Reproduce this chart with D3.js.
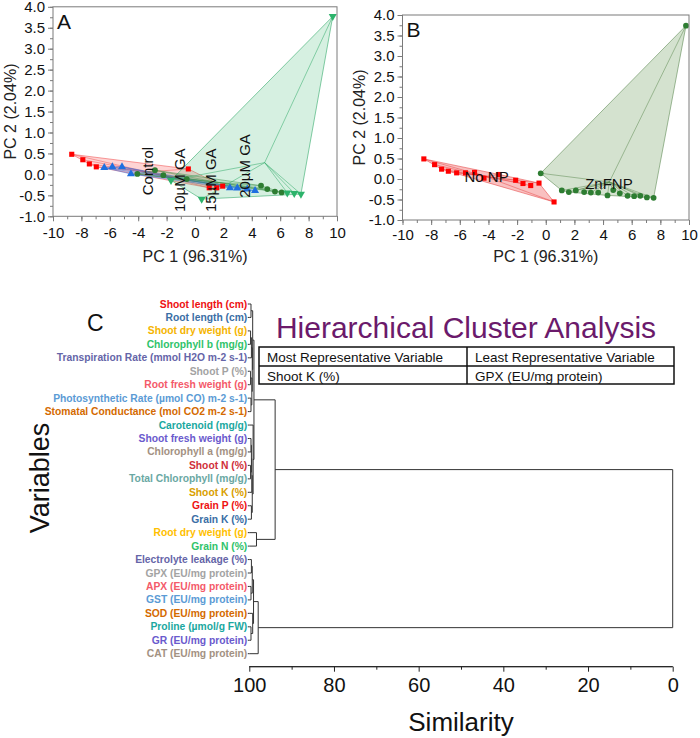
<!DOCTYPE html>
<html><head><meta charset="utf-8">
<script src="https://cdn.jsdelivr.net/npm/d3@7"></script>
<style>body{margin:0;background:#fff} svg{display:block} text{font-family:"Liberation Sans",Arial,sans-serif}</style>
</head><body><svg id="c" width="700" height="738"></svg>
<script>
// ---------------- DATA ----------------
const pcaXTicks = [-10,-8,-6,-4,-2,0,2,4,6,8,10];
const pcaYTicks = [-1.0,-0.5,0.0,0.5,1.0,1.5,2.0,2.5,3.0,3.5,4.0];
const pcXTitle = "PC 1 (96.31%)";
const pcYTitle = "PC 2 (2.04%)";

const groupNamesA = ["Control","10µM GA","15µM GA","20µM GA"];
const controlA = [[-8.68,0.48],[-7.9,0.35],[-7.44,0.25],[-6.95,0.18],[-0.47,0.13],[1.0,-0.32],[1.53,-0.32],[1.95,-0.28]];
const ga10A = [[-6.39,0.16],[-5.82,0.18],[-5.14,0.18],[-4.51,0.01],[2.46,-0.32],[2.98,-0.33],[3.68,-0.35],[4.23,-0.39]];
const ga15A = [[-4.06,0.01],[-2.82,0.1],[-2.23,-0.02],[-0.58,-0.11],[4.65,-0.27],[5.09,-0.35],[5.63,-0.41],[6.1,-0.43]];
const ga20A = [[-1.69,-0.14],[0.47,-0.59],[6.5,-0.44],[6.99,-0.45],[7.46,-0.47],[9.7,3.77]];
const labelPosA = [[-3.31,0.08],[-1.06,-0.14],[1.06,-0.14],[3.52,0.2]];

const groupNamesB = ["No NP","ZnFNP"];
const noNPB = [[-8.51,0.49],[-7.76,0.35],[-7.27,0.24],[-6.8,0.19],[-6.22,0.15],[-5.6,0.15],[-4.97,0.16],[-4.31,0.02],[-3.26,0.11],[-2.1,-0.03],[-1.59,-0.11],[-1.05,-0.16],[-0.47,-0.1],[0.58,-0.56]];
const znfnpB = [[-0.35,0.14],[1.12,-0.28],[1.61,-0.32],[2.1,-0.28],[2.68,-0.32],[3.15,-0.33],[3.66,-0.33],[4.31,-0.4],[4.71,-0.27],[5.17,-0.35],[5.71,-0.41],[6.17,-0.42],[6.6,-0.41],[7.06,-0.45],[7.53,-0.46],[9.79,3.74]];
const labelPosB = [[-4.13,0.05],[4.41,-0.12]];

const variables = ["Shoot length (cm)","Root length (cm)","Shoot dry weight (g)","Chlorophyll b (mg/g)","Transpiration Rate (mmol H2O m-2 s-1)","Shoot P (%)","Root fresh weight (g)","Photosynthetic Rate (µmol CO) m-2 s-1)","Stomatal Conductance (mol CO2 m-2 s-1)","Carotenoid (mg/g)","Shoot fresh weight (g)","Chlorophyll a (mg/g)","Shoot N (%)","Total Chlorophyll (mg/g)","Shoot K (%)","Grain P (%)","Grain K (%)","Root dry weight (g)","Grain N (%)","Electrolyte leakage (%)","GPX (EU/mg protein)","APX (EU/mg protein)","GST (EU/mg protein)","SOD (EU/mg protein)","Proline (µmol/g FW)","GR (EU/mg protein)","CAT (EU/mg protein)"];
const variableColors = ["#ee1111","#3a6ea5","#f5b400","#2fc36a","#6565a8","#a3a3a3","#f45a6a","#5b9bd5","#d46a00","#1aa8a0","#6a5acd","#a39182","#d0303a","#6aa8a3","#d9a000","#ee1111","#3a6ea5","#ffc000","#2fc36a","#6565a8","#a3a3a3","#f45a6a","#5b9bd5","#d46a00","#1aa8a0","#6a5acd","#a39182"];
// merges: [id, childA, childB, similarity]
const merges = [
 ["n0",0,1,99.6],["n1",2,3,99.7],["n2","n1",4,99.5],["n3",5,6,99.7],["n4",7,8,99.6],
 ["n5","n3","n4",99.4],["n6","n2","n5",99.3],["X","n0","n6",99.2],
 ["n9",10,11,99.6],["n10",12,13,99.7],["n11","n9","n10",99.5],["n12","n11",14,99.4],
 ["n13",15,16,99.5],["n14","n12","n13",99.3],["Y",9,"n14",99.1],
 ["A","X","Y",98.9],["B",17,18,98.3],["G1","A","B",93.9],
 ["m0",19,20,99.5],["m1",21,22,99.6],["m2","m0","m1",99.3],["m3",24,25,99.6],
 ["m4",23,"m3",99.2],["m5","m2","m4",99.0],["G2","m5",26,97.9],
 ["root","G1","G2",0]
];
const simTicks = [100,80,60,40,20,0];
const simMinor = [90,70,50,30,10];
const tableHead = ["Most Representative Variable","Least Representative Variable"];
const tableRow = ["Shoot K (%)","GPX (EU/mg protein)"];

// ---------------- DRAW ----------------
const svg = d3.select("#c");
const axisGray = "#7a7a7a";

function pcaPanel(cfg){
  const x = d3.scaleLinear().domain([-10,10]).range([cfg.x0,cfg.x1]);
  const y = d3.scaleLinear().domain([-1,4]).range([cfg.y1,cfg.y0]);
  const g = svg.append("g");
  cfg.groups.forEach(gr=>{
    const pts = gr.data.map(d=>[x(d[0]),y(d[1])]);
    const hull = d3.polygonHull(pts);
    g.append("path").attr("d","M"+hull.join("L")+"Z")
      .attr("fill",gr.fill).attr("stroke",gr.stroke).attr("stroke-width",0.8);
    const cx = d3.mean(gr.data,d=>d[0]), cy = d3.mean(gr.data,d=>d[1]);
    gr.data.forEach(d=>{
      g.append("line").attr("x1",x(cx)).attr("y1",y(cy)).attr("x2",x(d[0])).attr("y2",y(d[1]))
        .attr("stroke",gr.stroke).attr("stroke-width",0.7);
    });
  });
  cfg.groups.forEach(gr=>{
    const sym = d3.symbol().type(gr.symbol).size(gr.size);
    g.selectAll(null).data(gr.data).enter().append("path")
      .attr("d",sym)
      .attr("transform",d=>`translate(${x(d[0])},${y(d[1])})${gr.rot?" rotate(180)":""}`)
      .attr("fill",gr.color);
  });
  g.append("rect").attr("x",cfg.x0).attr("y",cfg.y0).attr("width",cfg.x1-cfg.x0).attr("height",cfg.y1-cfg.y0)
    .attr("fill","none").attr("stroke",axisGray).attr("stroke-width",1);
  const xa = g.append("g").attr("transform",`translate(0,${cfg.y1})`)
    .call(d3.axisBottom(x).tickValues(pcaXTicks).tickSize(5).tickPadding(cfg.xPad).tickFormat(d3.format("d")));
  const xm = g.append("g").attr("transform",`translate(0,${cfg.y1})`)
    .call(d3.axisBottom(x).tickValues(d3.range(-10,11,1)).tickSize(3).tickFormat(""));
  const ya = g.append("g").attr("transform",`translate(${cfg.x0},0)`)
    .call(d3.axisLeft(y).tickValues(pcaYTicks).tickSize(5).tickPadding(3).tickFormat(d3.format(".1f")));
  const ym = g.append("g").attr("transform",`translate(${cfg.x0},0)`)
    .call(d3.axisLeft(y).tickValues(d3.range(-1,4.01,0.25)).tickSize(3).tickFormat(""));
  [xa,xm,ya,ym].forEach(a=>{
    a.select(".domain").remove();
    a.selectAll("line").attr("stroke",axisGray);
    a.selectAll("text").attr("font-size",15).attr("fill","#111").attr("font-family","Liberation Sans, Arial, sans-serif");
  });
  ya.selectAll("text").text(d=>d3.format(".1f")(d).replace("−","-"));
  xa.selectAll("text").text(d=>String(d));
  g.append("text").attr("x",(cfg.x0+cfg.x1)/2).attr("y",cfg.xTitleY).attr("text-anchor","middle")
    .attr("font-size",16).attr("fill","#222").text(pcXTitle);
  g.append("text").attr("transform",`translate(${cfg.yTitleX},${(cfg.y0+cfg.y1)/2}) rotate(-90)`)
    .attr("text-anchor","middle").attr("dominant-baseline","central").attr("font-size",16).attr("fill","#222").text(pcYTitle);
  g.append("text").attr("x",cfg.x0+4).attr("y",cfg.y0+22).attr("font-size",21).attr("fill","#111").text(cfg.letter);
  cfg.labels.forEach(l=>{
    const t = g.append("text").attr("font-size",15).attr("fill","#111")
      .attr("text-anchor","middle").attr("dominant-baseline","central").text(l.text);
    if(l.rot) t.attr("transform",`translate(${x(l.pos[0])},${y(l.pos[1])}) rotate(-90)`);
    else t.attr("x",x(l.pos[0])).attr("y",y(l.pos[1]));
  });
}

pcaPanel({x0:53,x1:337,y0:6.8,y1:216.3,xPad:6,xTitleY:262,yTitleX:10,letter:"A",
  groups:[
    {data:controlA,symbol:d3.symbolSquare,size:26,color:"#ff0000",fill:"rgba(250,40,40,0.20)",stroke:"rgba(240,70,70,0.65)"},
    {data:ga10A,symbol:d3.symbolTriangle,size:28,color:"#1f6fe0",fill:"rgba(40,110,230,0.18)",stroke:"rgba(40,110,230,0.55)"},
    {data:ga15A,symbol:d3.symbolCircle,size:26,color:"#2e7d32",fill:"rgba(46,125,50,0.15)",stroke:"rgba(46,125,50,0.55)"},
    {data:ga20A,symbol:d3.symbolTriangle,size:28,rot:true,color:"#2db36b",fill:"rgba(70,185,120,0.22)",stroke:"rgba(50,170,105,0.75)"}
  ],
  labels:groupNamesA.map((t,i)=>({text:t,pos:labelPosA[i],rot:true}))
});
pcaPanel({x0:402.5,x1:689,y0:15,y1:220,xPad:4,xTitleY:262,yTitleX:359,letter:"B",
  groups:[
    {data:noNPB,symbol:d3.symbolSquare,size:26,color:"#ff0000",fill:"rgba(235,60,60,0.32)",stroke:"rgba(230,70,70,0.7)"},
    {data:znfnpB,symbol:d3.symbolCircle,size:26,color:"#2e7d32",fill:"rgba(120,165,105,0.32)",stroke:"rgba(95,140,85,0.75)"}
  ],
  labels:groupNamesB.map((t,i)=>({text:t,pos:labelPosB[i],rot:false}))
});

// ---------------- DENDROGRAM ----------------
const sx = d3.scaleLinear().domain([100,0]).range([249.3,672.7]);
const sy = d3.scalePoint().domain(d3.range(variables.length)).range([304,653.7]);
const dg = svg.append("g");
const pos = {};
variables.forEach((v,i)=>{ pos[i] = {x:sx(100),y:sy(i)}; });
dg.selectAll(null).data(variables).enter().append("text")
  .attr("x",sx(100)-2).attr("y",(d,i)=>sy(i)).attr("text-anchor","end").attr("dominant-baseline","central")
  .attr("font-size",10.3).attr("font-weight","bold").attr("fill",(d,i)=>variableColors[i]).text(d=>d);
dg.selectAll(null).data(variables).enter().append("line")
  .attr("x1",sx(100)-1.5).attr("x2",sx(100)).attr("y1",(d,i)=>sy(i)).attr("y2",(d,i)=>sy(i))
  .attr("stroke","#333").attr("stroke-width",1);
merges.forEach(m=>{
  const a = pos[m[1]], b = pos[m[2]];
  const nx = sx(m[3]);
  pos[m[0]] = {x:nx,y:(a.y+b.y)/2};
  dg.append("path").attr("d",`M${a.x},${a.y}H${nx}V${b.y}H${b.x}`)
    .attr("fill","none").attr("stroke","#333").attr("stroke-width",1);
});
const axY = 666.7;
const sa = dg.append("g").attr("transform",`translate(0,${axY})`)
  .call(d3.axisBottom(sx).tickValues(simTicks).tickSize(5).tickPadding(6).tickFormat(d3.format("d")));
const sm = dg.append("g").attr("transform",`translate(0,${axY})`)
  .call(d3.axisBottom(sx).tickValues(simMinor).tickSize(3).tickFormat(""));
[sa,sm].forEach(a=>{a.selectAll("line").attr("stroke","#222");a.select(".domain").attr("stroke","#222").attr("d",`M${sx(100)},0H${sx(0)}`);});
sa.selectAll("text").attr("font-size",20).attr("fill","#111").attr("font-family","Liberation Sans, Arial, sans-serif");
dg.append("text").attr("x",(sx(100)+sx(0))/2).attr("y",731).attr("text-anchor","middle").attr("font-size",26).attr("fill","#111").text("Similarity");
dg.append("text").attr("transform","translate(40,478) rotate(-90)").attr("text-anchor","middle").attr("dominant-baseline","central")
  .attr("font-size",27).attr("fill","#111").text("Variables");
dg.append("text").attr("x",87).attr("y",331).attr("font-size",23).attr("fill","#111").text("C");
dg.append("text").attr("x",466).attr("y",338).attr("text-anchor","middle").attr("font-size",30).attr("fill","#6b1a6b").text("Hierarchical Cluster Analysis");
const tx0=259, tx1=674, tmid=467, ty0=347, ty1=384, trow=366;
const tg = dg.append("g").attr("stroke","#111").attr("stroke-width",1.5);
tg.append("rect").attr("x",tx0).attr("y",ty0).attr("width",tx1-tx0).attr("height",ty1-ty0).attr("fill","none");
tg.append("line").attr("x1",tx0).attr("x2",tx1).attr("y1",trow).attr("y2",trow);
tg.append("line").attr("x1",tmid).attr("x2",tmid).attr("y1",ty0).attr("y2",ty1);
[[tableHead,(ty0+trow)/2],[tableRow,(trow+ty1)/2]].forEach(([row,yy])=>{
  row.forEach((t,i)=>{
    dg.append("text").attr("x",(i?tmid:tx0)+8).attr("y",yy+1).attr("dominant-baseline","central")
      .attr("font-size",13.5).attr("fill","#111").text(t);
  });
});
</script></body></html>
